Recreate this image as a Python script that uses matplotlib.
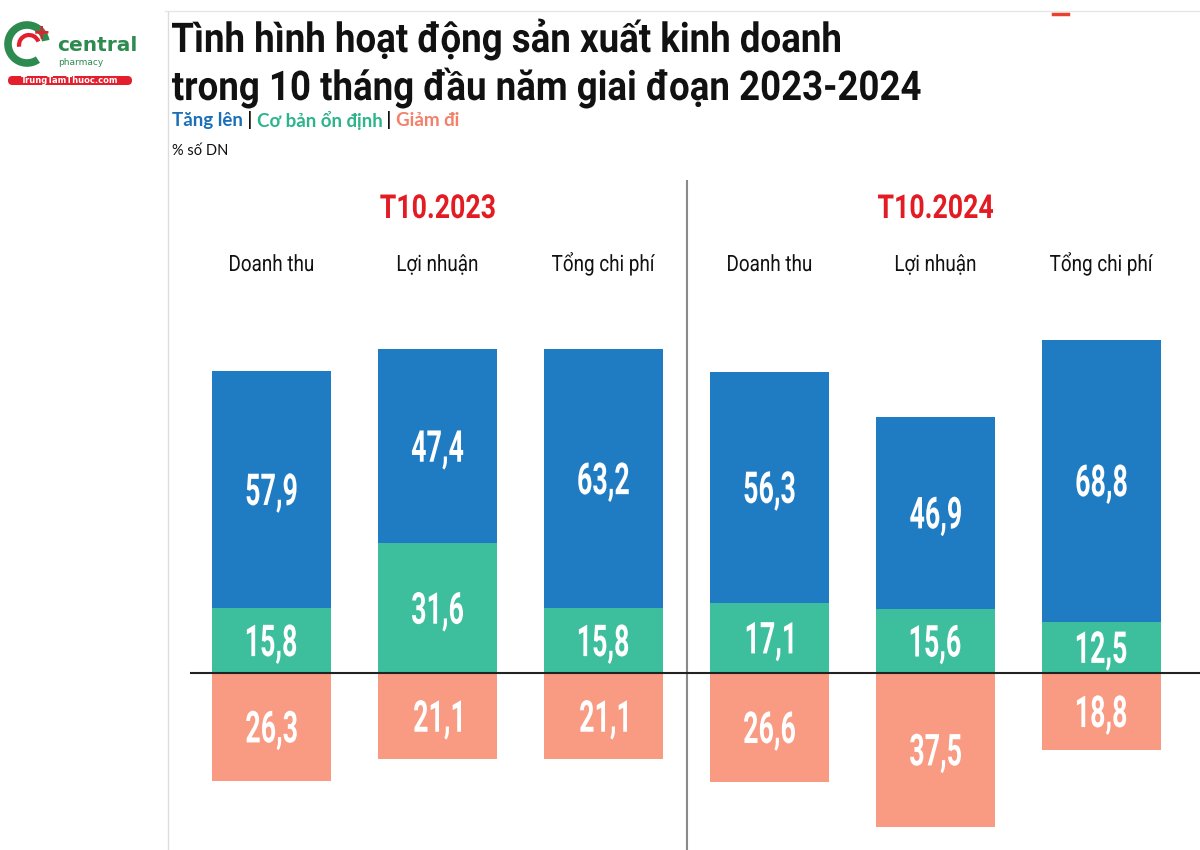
import matplotlib
matplotlib.use("Agg")
import matplotlib.pyplot as plt
import numpy as np
from matplotlib.patches import Arc, FancyBboxPatch, PathPatch
from matplotlib.textpath import TextPath
from matplotlib.font_manager import FontProperties
from matplotlib.transforms import Affine2D

# data (% số DN)
periods = ["T10.2023", "T10.2024"]
metrics = ["Doanh thu", "Lợi nhuận", "Tổng chi phí"]
tang_len = [57.9, 47.4, 63.2, 56.3, 46.9, 68.8]
on_dinh = [15.8, 31.6, 15.8, 17.1, 15.6, 12.5]
giam_di = [26.3, 21.1, 21.1, 26.6, 37.5, 18.8]

c_blue = "#1f7cc3"
c_green = "#3dbf9d"
c_red = "#f99a82"

W, H = 1200, 850
fig = plt.figure(figsize=(12, 8.5), dpi=100)
fig.patch.set_facecolor("white")


def path_text(s, x, y, size, sx=None, width=None, color="black", weight="bold",
              family="Roboto", ha="center"):
    """condensed text drawn as a path; x, y = baseline position in display pixels"""
    fp = FontProperties(family=[family, "DejaVu Sans"], weight=weight)
    tp = TextPath((0, 0), s, size=size, prop=fp)
    bb = tp.get_extents()
    if sx is None:
        sx = width / bb.width
    if ha == "center":
        x0 = (bb.x0 + bb.x1) / 2
    else:
        x0 = bb.x0
    tr = Affine2D().translate(-x0, 0).scale(sx, 1).translate(x, y)
    fig.add_artist(PathPatch(tp, transform=tr, color=color, lw=0, zorder=10))
    return sx


def cap_height(size, family="Roboto", weight="bold"):
    fp = FontProperties(family=[family, "DejaVu Sans"], weight=weight)
    return TextPath((0, 0), "H", size=size, prop=fp).get_extents().y1


def fit_sx(s, size, width, family="Roboto", weight="bold"):
    fp = FontProperties(family=[family, "DejaVu Sans"], weight=weight)
    return width / TextPath((0, 0), s, size=size, prop=fp).get_extents().width


# decoration layer in pixel coords (y down)
deco = fig.add_axes([0, 0, 1, 1])
deco.set_xlim(0, W)
deco.set_ylim(H, 0)
deco.axis("off")

# thin frame lines of the screenshot
deco.plot([168, 168], [12, 850], color="#dddddd", lw=1)
deco.plot([165, 1200], [11, 11], color="#e6e6e6", lw=1)
deco.plot([1053, 1068], [14, 14], color="#e8412e", lw=2.5)

# logo
deco.add_patch(Arc((27, 44), 38, 38, theta1=55, theta2=350, color="#2e8b4f", lw=5.5))
deco.add_patch(Arc((29, 45), 20, 20, theta1=170, theta2=340, color="#e31e2d", lw=3))
deco.text(42, 33, "+", color="#e31e2d", fontsize=15, fontweight="bold", ha="center", va="center")
deco.text(57, 45, "central", color="#2e8b4f", fontsize=14.5, fontweight="bold",
          ha="left", va="center", family="DejaVu Sans")
deco.text(58, 62, "pharmacy", color="#2e8b4f", fontsize=6.5, ha="left", va="center")
deco.add_patch(FancyBboxPatch((8, 76), 124, 9, boxstyle="round,pad=0,rounding_size=4.5",
                              color="#e31e2d", lw=0))
deco.text(70, 80.5, "TrungTamThuoc.com", color="white", fontsize=6, fontweight="bold",
          ha="center", va="center")

# title
t_size = 41
t_sx = fit_sx("Tình hình hoạt động sản xuất kinh doanh", t_size, 668)
path_text("Tình hình hoạt động sản xuất kinh doanh", 172, H - 52, t_size, sx=t_sx,
          color="#111111", ha="left")
path_text("trong 10 tháng đầu năm giai đoạn 2023-2024", 172, H - 100, t_size, sx=t_sx,
          color="#111111", ha="left")

# legend line, pieces chained left to right
fig.canvas.draw()
renderer = fig.canvas.get_renderer()
pieces = [("Tăng lên", "#1b6fb8"), (" | ", "#111111"), ("Cơ bản ổn định", "#2db48c"),
          (" | ", "#111111"), ("Giảm đi", "#f4806a")]
x = 172
for txt, col in pieces:
    t = deco.text(x, 120, txt, fontsize=13.5, fontweight="bold", color=col,
                  family=["Lato", "DejaVu Sans"], ha="left", va="center")
    x += t.get_window_extent(renderer).width
deco.text(172, 151, "% số DN", fontsize=10.5, color="#111111", family=["Lato", "DejaVu Sans"],
          ha="left", va="center")

# bar axes
ax = fig.add_axes([190 / W, 0, 1010 / W, 670 / H])
ax.axis("off")
xpos = np.arange(len(tang_len))
w = 0.717
ax.bar(xpos, on_dinh, width=w, color=c_green, zorder=2)
ax.bar(xpos, tang_len, width=w, bottom=on_dinh, color=c_blue, zorder=2)
ax.bar(xpos, [-v for v in giam_di], width=w, color=c_red, zorder=2)
ax.set_xlim(-0.491, 5.593)
ax.set_ylim(-43.2, 120.2)
ax.axhline(0, color="#222222", lw=1.5, zorder=3)
ax.axvline(2.5, color="#8a8a8a", lw=1.5, zorder=1)


def fmt(v):
    return f"{v:.1f}".replace(".", ",")


# value labels (condensed white numbers)
n_size = 44
n_cap = cap_height(n_size)
n_sx = fit_sx("57,9", n_size, 50)
for i in xpos:
    for yc, v in [(on_dinh[i] + tang_len[i] / 2, tang_len[i]),
                  (on_dinh[i] / 2, on_dinh[i]),
                  (-giam_di[i] / 2, giam_di[i])]:
        px, py = ax.transData.transform((i, yc))
        path_text(fmt(v), px, py - n_cap / 2, n_size, sx=n_sx, color="white")

# group headers and category labels
p_size = 33
p_sx = fit_sx("T10.2024", p_size, 115)
m_size = 22.5
m_sx = fit_sx("Doanh thu", m_size, 83, weight="normal")
for g, p in enumerate(periods):
    px, _ = ax.transData.transform((g * 3 + 1, 0))
    path_text(p, px, H - 218, p_size, sx=p_sx, color="#e31b23")
    for k, m in enumerate(metrics):
        px, _ = ax.transData.transform((g * 3 + k, 0))
        path_text(m, px, H - 271, m_size, sx=m_sx, color="#111111", weight="normal")

fig.savefig("out.png", dpi=100, facecolor="white")
